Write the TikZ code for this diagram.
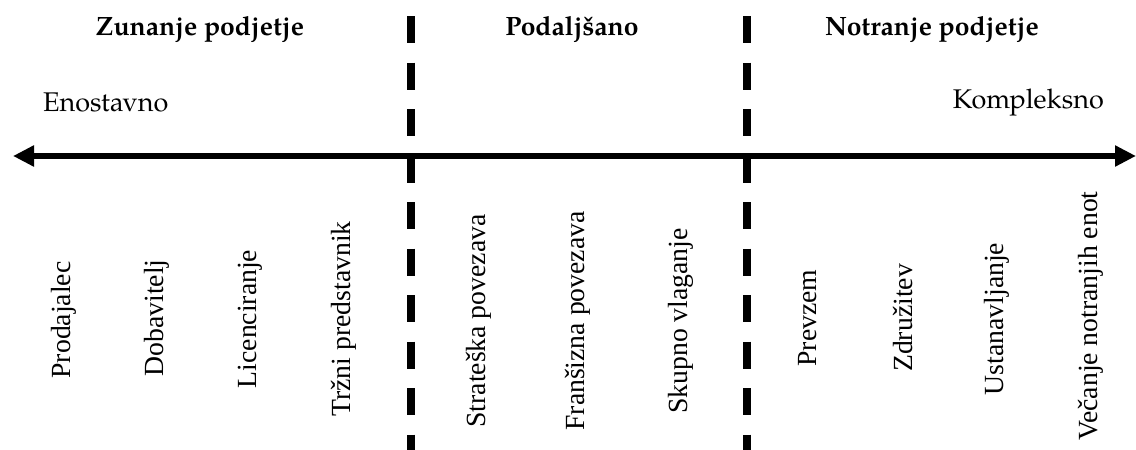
\documentclass[tikz,border=0pt]{standalone}
\usepackage{fontspec}
\setmainfont{TeX Gyre Pagella}
\newfontfamily\labelfont{Liberation Serif}
\usetikzlibrary{arrows.meta}
\begin{document}
\begin{tikzpicture}[x=1pt,y=-1pt,
  title/.style={font=\fontsize{26.5}{30}\selectfont\bfseries, anchor=center},
  endlabel/.style={font=\fontsize{27}{31}\selectfont},
  option/.style={font=\labelfont\fontsize{27.7}{31}\selectfont, rotate=90, anchor=center, inner sep=0pt},
  axis/.style={line width=6.5pt, {Triangle[length=21pt,width=20pt]}-{Triangle[length=21pt,width=20pt]}},
  divider/.style={line width=8pt, dash pattern=on 27pt off 19.5pt}]
\useasboundingbox (0,0) rectangle (1136,450);

% headings of the three zones
\node[title] (ext) at (200,29) {Zunanje podjetje};
\node[title] (mid) at (572,29) {Podaljšano};
\node[title] (int) at (932,29) {Notranje podjetje};

% ends of the scale
\node[endlabel, anchor=west, inner sep=0pt] (simple) at (43,102) {Enostavno};
\node[endlabel, anchor=east, inner sep=0pt] (complex) at (1104,102) {Kompleksno};

% scale axis
\coordinate (axL) at (13,156);
\coordinate (axR) at (1136,156);
\draw[axis] (axL) -- (axR);

% zone dividers
\coordinate (d1t) at (411,16);
\coordinate (d1b) at (411,460);
\coordinate (d2t) at (747,16);
\coordinate (d2b) at (747,460);
\draw[divider] (d1t) -- (d1b);
\draw[divider] (d2t) -- (d2b);

% entry modes
\node[option] (o1) at (64,320) {Prodajalec};
\node[option] (o2) at (157,318) {Dobavitelj};
\node[option] (o3) at (250,319) {Licenciranje};
\node[option] (o4) at (344,319) {Tržni predstavnik};
\node[option] (o5) at (479,321) {Strateška povezava};
\node[option] (o6) at (578,321) {Franšizna povezava};
\node[option] (o7) at (681,321) {Skupno vlaganje};
\node[option] (o8) at (808,318) {Prevzem};
\node[option] (o9) at (903,318) {Združitev};
\node[option] (o10) at (997,319) {Ustanavljanje};
\node[option] (o11) at (1091,316) {Večanje notranjih enot};
\end{tikzpicture}
\end{document}
